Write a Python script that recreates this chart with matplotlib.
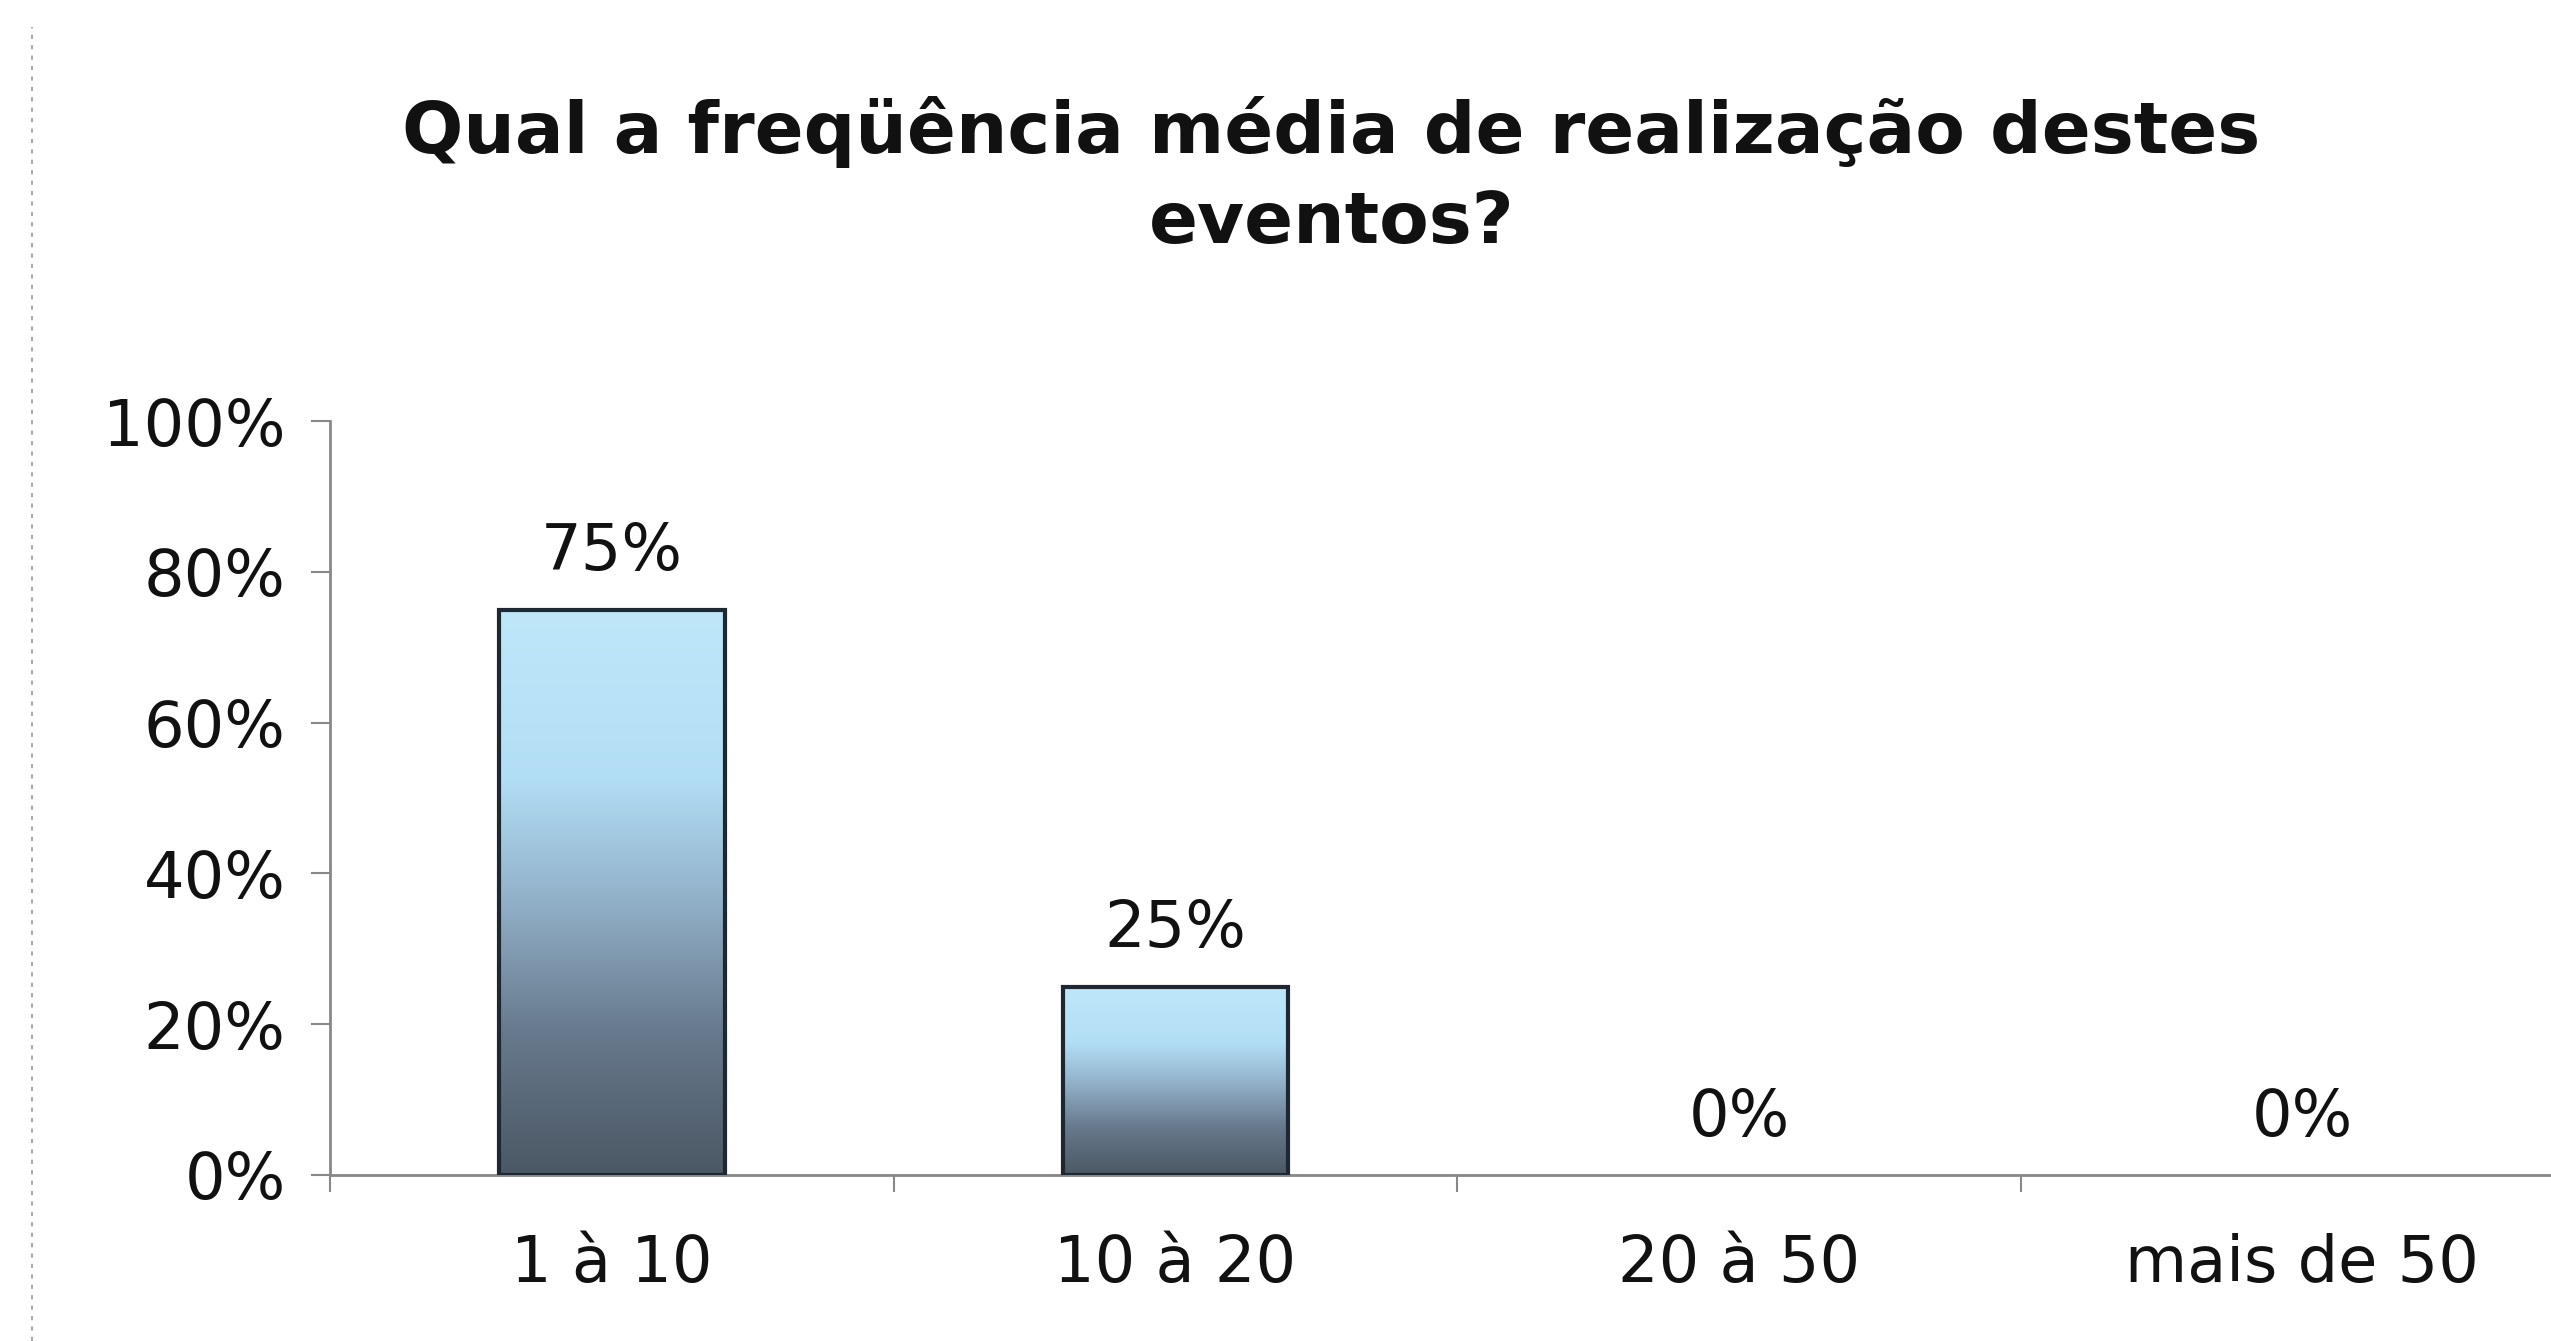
import numpy as np
import matplotlib
matplotlib.use("Agg")
import matplotlib.pyplot as plt
from matplotlib.colors import LinearSegmentedColormap
from matplotlib.lines import Line2D

# data
categorias = ['1 à 10', '10 à 20', '20 à 50', 'mais de 50']
valores = [0.75, 0.25, 0.0, 0.0]
rotulos = ['75%', '25%', '0%', '0%']
yticks = [0, 0.2, 0.4, 0.6, 0.8, 1.0]
ylabels = ['0%', '20%', '40%', '60%', '80%', '100%']
titulo = 'Qual a freqüência média de realização destes\neventos?'

plt.rcParams['font.family'] = ['DejaVu Sans']

fig = plt.figure(figsize=(25.51, 13.41), dpi=100)
ax = fig.add_axes([0.1294, 0.1238, 0.8836, 0.5622])

x = np.arange(len(categorias))
bars = ax.bar(x, valores, width=0.40, facecolor='none', edgecolor='#1e2833',
              linewidth=3, zorder=3)

# vertical gradient inside every bar
cmap = LinearSegmentedColormap.from_list('grad', [
    (0.0, '#4b5764'), (0.25, '#67798c'), (0.5, '#94b4cc'),
    (0.7, '#b2def5'), (1.0, '#bfe7fa')])
grad = np.linspace(0, 1, 256).reshape(-1, 1)
for b in bars:
    h = b.get_height()
    if h <= 0:
        b.set_linewidth(0)
        continue
    x0 = b.get_x()
    im = ax.imshow(grad, cmap=cmap, origin='lower', aspect='auto',
                   extent=[x0, x0 + b.get_width(), 0, h], zorder=2)
    im.set_clip_path(b)

ax.set_xlim(-0.5, len(categorias) - 0.5)
ax.set_ylim(0, 1)

for xi, v, t in zip(x, valores, rotulos):
    ax.annotate(t, (xi, v), xytext=(0, 19), textcoords='offset points',
                ha='center', va='bottom', fontsize=46, color='#111111')

ax.set_yticks(yticks)
ax.set_yticklabels(ylabels, fontsize=46, color='#111111')
ax.set_xticks(x)
ax.set_xticklabels(categorias, fontsize=46, color='#111111')
ax.set_xticks(np.arange(-0.5, len(categorias)), minor=True)

ax.tick_params(axis='y', length=14, width=1.5, color='#888888', pad=18)
ax.tick_params(axis='x', which='major', length=0, pad=42)
ax.tick_params(axis='x', which='minor', length=12, width=1.5, color='#888888')

for s in ['top', 'right']:
    ax.spines[s].set_visible(False)
for s in ['left', 'bottom']:
    ax.spines[s].set_color('#888888')
    ax.spines[s].set_linewidth(2)

fig.text(0.522, 0.868, titulo, ha='center', va='center', fontsize=52,
         fontweight='heavy', color='#111111', linespacing=1.4)

# faint dashed scan edge on the left
fig.add_artist(Line2D([0.0125, 0.0125], [0.0, 0.98], transform=fig.transFigure,
                      color='#aaaaaa', linestyle=(0, (2, 3)), linewidth=1.5))

fig.savefig('out.png', dpi=100, facecolor='white')
